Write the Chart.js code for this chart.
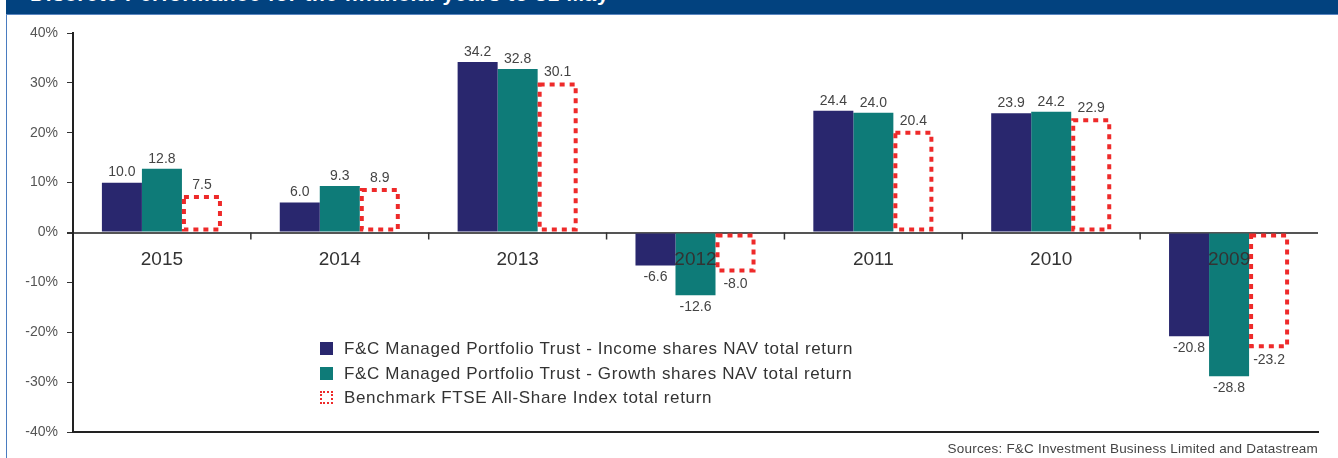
<!DOCTYPE html>
<html lang="en">
<head>
    <meta charset="UTF-8">
    <title>Discrete Performance for the financial years to 31 May</title>
    <script src="https://cdn.jsdelivr.net/npm/chart.js@4.4.0/dist/chart.umd.min.js"></script>
    <style>
        body {
            margin: 0;
            padding: 0;
            background-color: #ffffff;
            font-family: "Liberation Sans", Arial, Helvetica, sans-serif;
        }
        #container {
            position: relative;
            width: 1338px;
            height: 458px;
            overflow: hidden;
        }
        #header {
            position: absolute;
            left: 6px;
            top: 0;
            width: 1332px;
            height: 14px;
            background-color: #02427f;
            border-bottom: 1px solid #5a86c0;
            overflow: hidden;
        }
        #header span {
            position: absolute;
            left: 24px;
            top: -18px;
            color: #ffffff;
            font-weight: bold;
            font-size: 21px;
            letter-spacing: 0.7px;
            white-space: nowrap;
        }
        #leftBorder {
            position: absolute;
            left: 6px;
            top: 15px;
            width: 1px;
            height: 443px;
            background-color: #4a7cc0;
        }
        #perfChart {
            position: absolute;
            left: 0;
            top: 0;
        }
        #legend {
            position: absolute;
            left: 320px;
            top: 337px;
            color: #333333;
            font-size: 17px;
            letter-spacing: 0.65px;
        }
        .item {
            height: 24.5px;
            line-height: 24.5px;
            white-space: nowrap;
        }
        .swatch {
            display: inline-block;
            width: 13px;
            height: 13px;
            margin-right: 11px;
            vertical-align: -1px;
            box-sizing: border-box;
        }
        #source {
            position: absolute;
            right: 20px;
            top: 441px;
            color: #444444;
            font-size: 13.5px;
            letter-spacing: 0.2px;
        }
    </style>
</head>
<body>
    <div id="container">
        <div id="header"><span>Discrete Performance for the financial years to 31 May</span></div>
        <div id="leftBorder"></div>
        <canvas id="perfChart" width="1338" height="458"></canvas>
        <div id="legend"></div>
        <div id="source">Sources: F&amp;C Investment Business Limited and Datastream</div>
    </div>

    <script>
        // Financial years to 31 May
        const years = ['2015', '2014', '2013', '2012', '2011', '2010', '2009'];

        const seriesNames = [
            'F&C Managed Portfolio Trust - Income shares NAV total return',
            'F&C Managed Portfolio Trust - Growth shares NAV total return',
            'Benchmark FTSE All-Share Index total return'
        ];

        const incomeNav = [10.0, 6.0, 34.2, -6.6, 24.4, 23.9, -20.8];
        const growthNav = [12.8, 9.3, 32.8, -12.6, 24.0, 24.2, -28.8];
        const benchmark = [7.5, 8.9, 30.1, -8.0, 20.4, 22.9, -23.2];

        const yTicks = [-40, -30, -20, -10, 0, 10, 20, 30, 40];

        const NAVY = '#29276e';
        const TEAL = '#0e7b78';
        const RED = '#ee2a2a';

        // html legend
        const legendEl = document.getElementById('legend');
        seriesNames.forEach((name, i) => {
            const row = document.createElement('div');
            row.className = 'item';
            const sw = document.createElement('span');
            sw.className = 'swatch';
            if (i === 0) sw.style.background = NAVY;
            if (i === 1) sw.style.background = TEAL;
            if (i === 2) sw.style.border = '2px dotted ' + RED;
            row.appendChild(sw);
            row.appendChild(document.createTextNode(name));
            legendEl.appendChild(row);
        });

        // dotted outline for the benchmark bars, value labels, category labels
        const extras = {
            id: 'extras',
            afterDatasetsDraw(chart) {
                const ctx = chart.ctx;
                const xs = chart.scales.x;
                const ys = chart.scales.y;
                const zero = ys.getPixelForValue(0);

                // benchmark outline
                const bMeta = chart.getDatasetMeta(2);
                ctx.save();
                ctx.strokeStyle = RED;
                ctx.lineWidth = 4;
                ctx.setLineDash([5, 5]);
                bMeta.data.forEach(bar => {
                    const left = bar.x - bar.width / 2;
                    const top = Math.min(bar.y, bar.base);
                    const h = Math.abs(bar.base - bar.y);
                    ctx.strokeRect(left + 2, top + 2, bar.width - 4, h - 4);
                });
                ctx.restore();

                // value labels
                ctx.save();
                ctx.font = '14px "Liberation Sans", Arial, sans-serif';
                ctx.fillStyle = '#444444';
                ctx.textAlign = 'center';
                ctx.textBaseline = 'middle';
                chart.data.datasets.forEach((ds, di) => {
                    chart.getDatasetMeta(di).data.forEach((bar, i) => {
                        const v = ds.data[i];
                        const yPos = v >= 0 ? bar.y - 10 : bar.y + 12;
                        ctx.fillText(v.toFixed(1), bar.x, yPos);
                    });
                });
                ctx.restore();

                // category labels + separator ticks on the zero line
                ctx.save();
                ctx.font = '19px "Liberation Sans", Arial, sans-serif';
                ctx.fillStyle = '#333333';
                ctx.textAlign = 'center';
                ctx.textBaseline = 'middle';
                years.forEach((y, i) => {
                    ctx.fillText(y, xs.getPixelForValue(i), zero + 27);
                });
                ctx.strokeStyle = '#333333';
                ctx.lineWidth = 1.5;
                for (let i = 1; i < years.length; i++) {
                    const bx = (xs.getPixelForValue(i - 1) + xs.getPixelForValue(i)) / 2;
                    ctx.beginPath();
                    ctx.moveTo(bx, zero);
                    ctx.lineTo(bx, zero + 7);
                    ctx.stroke();
                }
                ctx.restore();
            }
        };

        const ctx = document.getElementById('perfChart').getContext('2d');
        new Chart(ctx, {
            type: 'bar',
            data: {
                labels: years,
                datasets: [
                    { label: seriesNames[0], data: incomeNav, backgroundColor: NAVY },
                    { label: seriesNames[1], data: growthNav, backgroundColor: TEAL },
                    { label: seriesNames[2], data: benchmark, backgroundColor: 'rgba(255,255,255,0)', borderWidth: 0 }
                ]
            },
            options: {
                responsive: false,
                animation: false,
                categoryPercentage: 0.675,
                barPercentage: 1.0,
                layout: {
                    padding: { left: 0, right: 20, top: 33, bottom: 26 }
                },
                plugins: {
                    legend: { display: false },
                    tooltip: { enabled: false }
                },
                scales: {
                    x: {
                        ticks: { display: false },
                        grid: { display: true, drawOnChartArea: false, drawTicks: false },
                        border: { display: true, color: '#222222', width: 2 },
                        afterFit: (scale) => { scale.height = 0; }
                    },
                    y: {
                        min: -40,
                        max: 40,
                        afterBuildTicks: (scale) => {
                            scale.ticks = yTicks.map(v => ({ value: v }));
                        },
                        ticks: {
                            color: '#555555',
                            padding: 9,
                            font: { size: 14, family: '"Liberation Sans", Arial, sans-serif' },
                            callback: (v) => v + '%'
                        },
                        grid: {
                            tickLength: 6,
                            tickColor: '#333333',
                            color: (c) => (c.tick && c.tick.value === 0) ? '#555555' : 'rgba(0,0,0,0)',
                            lineWidth: (c) => (c.tick && c.tick.value === 0) ? 2 : 1
                        },
                        border: { display: true, color: '#222222', width: 2 },
                        afterFit: (scale) => { scale.width = 73; }
                    }
                }
            },
            plugins: [extras]
        });
    </script>
</body>
</html>
